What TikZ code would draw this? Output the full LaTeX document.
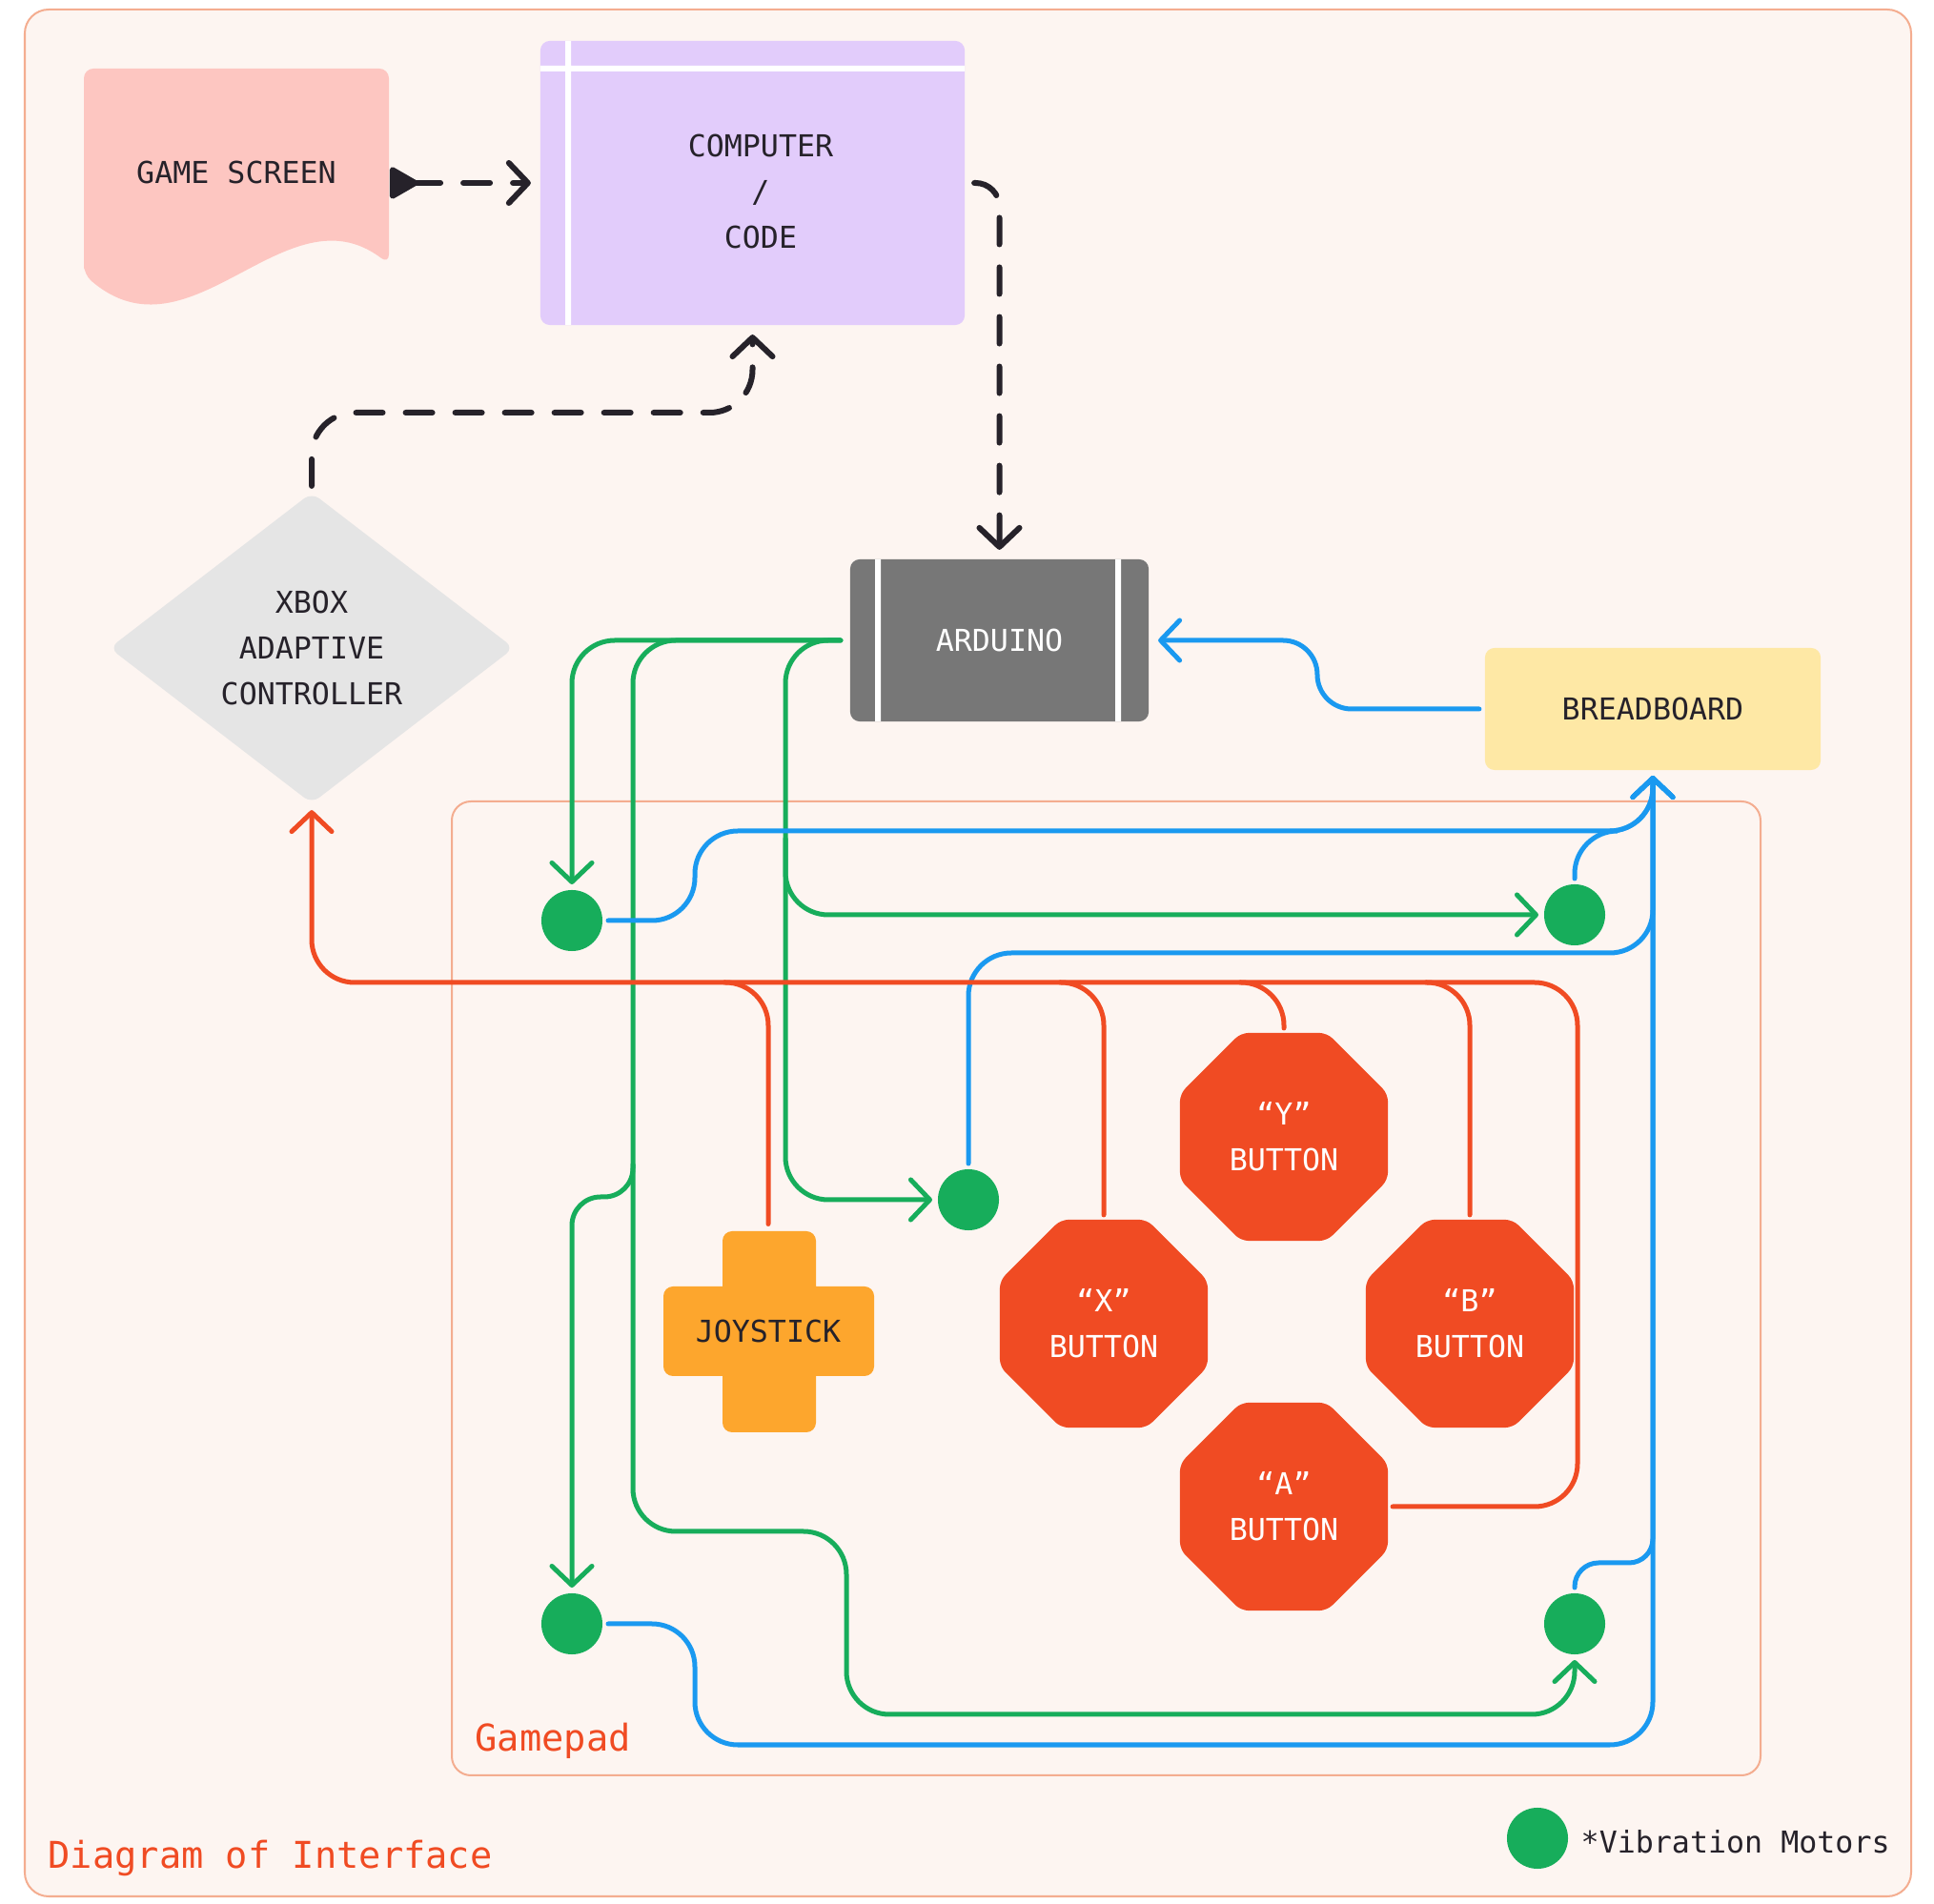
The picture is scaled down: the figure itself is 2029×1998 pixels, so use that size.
\documentclass[tikz,border=0pt]{standalone}
\usepackage{fontspec}
\setmainfont{DejaVu Sans Mono}
\usetikzlibrary{arrows.meta,shapes.geometric}

\definecolor{paper}{HTML}{FDF5F1}
\definecolor{framecol}{HTML}{F4AD90}
\definecolor{ink}{HTML}{26222A}
\definecolor{screenpink}{HTML}{FDC6C1}
\definecolor{compviolet}{HTML}{E2CCFB}
\definecolor{xboxgray}{HTML}{E5E5E5}
\definecolor{ardgray}{HTML}{777777}
\definecolor{breadyellow}{HTML}{FEE8A5}
\definecolor{joyorange}{HTML}{FDA62D}
\definecolor{btnred}{HTML}{F04B23}
\definecolor{motorgreen}{HTML}{17AD5B}
\definecolor{wireblue}{HTML}{1A99F0}

\tikzset{
  txt/.style={font=\fontsize{9}{13.7}\selectfont, align=center, text=ink},
  box/.style={txt, rounded corners=0.1cm, inner sep=0, outer sep=0.1cm},
  btn/.style={txt, text=white, regular polygon, regular polygon sides=8, minimum size=2.36cm,
    fill=btnred, rounded corners=0.08cm, inner sep=0, outer sep=0.05cm},
  motor/.style={circle, fill=motorgreen, minimum size=0.64cm, inner sep=0, outer sep=0.06cm},
  wire/.style={line width=0.05cm, rounded corners=0.45cm, line cap=round},
  gwire/.style={wire, motorgreen},
  bwire/.style={wire, wireblue},
  rwire/.style={wire, btnred},
  dwire/.style={wire, ink, line width=0.06cm, dash pattern=on 0.28cm off 0.24cm},
  tip/.style={-{Straight Barb[length=0.2cm, width=0.42cm, round]}}
}

\begin{document}
\begin{tikzpicture}[x=0.01cm, y=-0.01cm]
  \useasboundingbox (0,0) rectangle (2029,1998);
  % frames and titles
  \draw[fill=paper, draw=framecol, line width=0.02cm, rounded corners=0.25cm] (26,10) rectangle (2005,1990);
  \draw[framecol, line width=0.02cm, rounded corners=0.2cm] (474,841) rectangle (1847,1863);
  \node[anchor=base west, font=\fontsize{11}{13}\selectfont, text=btnred, inner sep=0] (gamepad) at (498,1838) {Gamepad};
  \node[anchor=base west, font=\fontsize{11}{13}\selectfont, text=btnred, inner sep=0] (title) at (50,1961) {Diagram of Interface};

  % game screen and computer
  \fill[screenpink, rounded corners=0.1cm] (88,288) -- (88,72) -- (408,72) -- (408,277)
    .. controls (300,195) and (200,385) .. (88,288) -- cycle;
  \node[txt, minimum width=3.2cm, minimum height=2cm, inner sep=0] (screen) at (248,181) {GAME SCREEN};
  \node[box, fill=compviolet, minimum width=4.45cm, minimum height=2.98cm] (comp) at (789.5,192) {};
  \fill[white] (593,43) rectangle (599,341) (567,69) rectangle (1012,75);
  \node[txt] (compText) at (798,201) {COMPUTER\\/\\CODE};

  % xbox, arduino, breadboard
  \node[txt, diamond, aspect=1.3, fill=xboxgray, minimum width=4.28cm, minimum height=3.3cm,
    inner sep=0, outer sep=0.05cm, rounded corners=0.1cm] (xbox) at (327,680) {XBOX\\ADAPTIVE\\CONTROLLER};
  \node[box, fill=ardgray, text=white, minimum width=3.13cm, minimum height=1.7cm] (ard) at (1048.5,672) {ARDUINO};
  \fill[white] (918,587) rectangle (924,757) (1170,587) rectangle (1176,757);
  \node[box, fill=breadyellow, minimum width=3.52cm, minimum height=1.28cm, outer sep=0.06cm] (bread) at (1734,744) {BREADBOARD};

  % gamepad parts
  \fill[joyorange, rounded corners=0.1cm] (758,1292) rectangle (856,1503) (696,1350) rectangle (917,1444);
  \node[txt, minimum width=2.21cm, minimum height=2.11cm, inner sep=0, outer sep=0.07cm] (joy) at (806,1397) {JOYSTICK};
  \node[btn] (btnY) at (1347,1193) {“Y”\\BUTTON};
  \node[btn] (btnX) at (1158,1389) {“X”\\BUTTON};
  \node[btn] (btnB) at (1542,1389) {“B”\\BUTTON};
  \node[btn] (btnA) at (1347,1581) {“A”\\BUTTON};
  \node[motor] (m1) at (600,966) {};
  \node[motor] (m2) at (1652,960) {};
  \node[motor] (m3) at (1016,1259) {};
  \node[motor] (m4) at (600,1704) {};
  \node[motor] (m5) at (1652,1704) {};
  % legend
  \node[motor] (key) at (1613,1929) {};
  \node[txt, anchor=base west, inner sep=0] (keyText) at (1658,1945) {*Vibration Motors};

  % dashed links
  \draw[dwire, {Triangle[reversed, length=0.33cm, width=0.36cm, round]}-{Straight Barb[length=0.2cm, width=0.42cm, round]}]
    (screen.east |- comp.west) -- (comp.west);
  \draw[dwire, tip, rounded corners=0.25cm] (comp.east) -| (ard);
  \draw[dwire, tip] (xbox) |- (789.5,433) -- (comp);

  % green: arduino to motors
  \draw[gwire, tip] (ard.west) -| (m1);
  \draw[gwire, tip] (ard.west) -| (664,1607) -| (888,1799) -| (m5);
  \draw[gwire, tip, rounded corners=0.3cm] (664,1222) -- (664,1256) -| (m4);
  \draw[gwire, tip] (ard.west) -- (824,672) |- (m3);
  \draw[gwire, tip] (824,880) |- (m2);

  % blue: motors to breadboard to arduino
  \draw[bwire, tip, rounded corners=0.36cm] (bread.west) -- (1382,744) |- (ard.east);
  \draw[bwire, tip] (m1) -- (729,966) |- (1734,872) -- (bread);
  \draw[bwire, tip] (m2) |- (1734,872) -- (bread);
  \draw[bwire, tip] (m3) |- (1734,1000) -- (bread);
  \draw[bwire, tip, rounded corners=0.25cm] (m5) |- (1734,1640) -- (bread);
  \draw[bwire, tip] (m4) -- (729,1704) |- (1734,1831) -- (bread);

  % red: buttons to xbox
  \draw[rwire, tip] (btnA) -- (1655,1581) |- (327,1031) -- (xbox);
  \draw[rwire] (760,1031) -| (joy);
  \draw[rwire] (1112,1031) -| (btnX);
  \draw[rwire] (1301,1031) -| (btnY);
  \draw[rwire] (1496,1031) -| (btnB);
\end{tikzpicture}
\end{document}
